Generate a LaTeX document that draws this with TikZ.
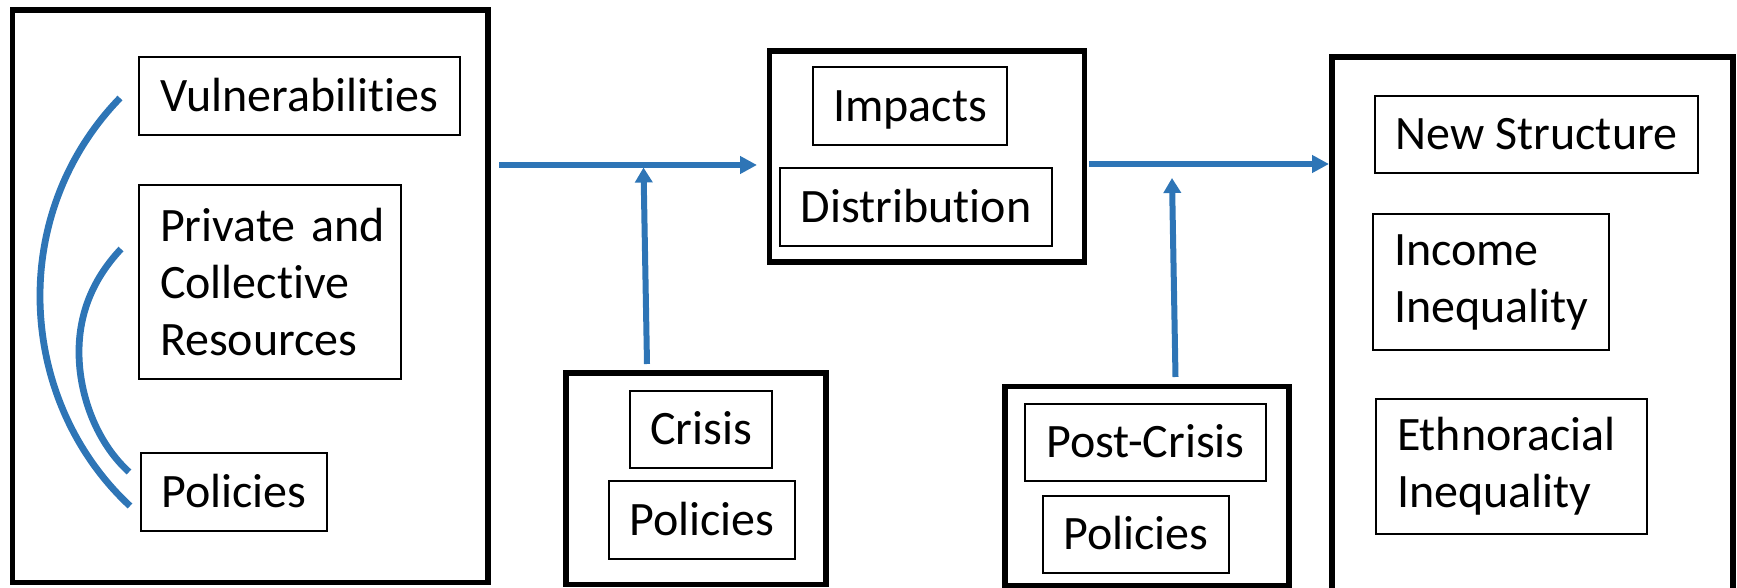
\documentclass[tikz,border=0pt]{standalone}
\usepackage{fontspec}
\setmainfont{Carlito}[Ligatures=NoCommon]
\usetikzlibrary{arrows.meta}
\definecolor{arrblue}{RGB}{46,117,182}
\begin{document}
\begin{tikzpicture}[x=0.5pt,y=-0.5pt,
  outerbox/.style={draw, line width=2.8pt, inner sep=0pt},
  inbox/.style={draw, line width=0.85pt, inner sep=0pt, font=\fontsize{24}{28.5}\selectfont, text height=15.4pt, text depth=0pt},
  multibox/.style={draw, line width=0.85pt, inner xsep=10.5pt, inner ysep=0pt, align=left, font=\fontsize{24}{28.5}\selectfont},
  link/.style={arrblue, line width=3pt},
  arcline/.style={arrblue, line width=3.4pt},
  arrh/.style={link, -{Triangle[length=8.5pt,width=8.5pt]}},
  arrv/.style={link, -{Triangle[length=7.5pt,width=8.5pt]}},
]
\useasboundingbox (0,0) rectangle (1737,588);
\clip (0,0) rectangle (1737,588);

% outer (thick) boxes
\node[outerbox, minimum width=237.75pt, minimum height=286.25pt] (left) at (250.25,296.25) {};
\node[outerbox, minimum width=157.5pt, minimum height=105.5pt] (mid) at (927,156.5) {};
\node[outerbox, minimum width=130pt, minimum height=105.75pt] (crisisbox) at (696,478.75) {};
\node[outerbox, minimum width=142pt, minimum height=99.5pt] (postbox) at (1147,486) {};
\node[outerbox, minimum width=200.5pt, minimum height=281.5pt] (right) at (1532.5,338.5) {};

% left group
\node[inbox, minimum width=160.5pt, minimum height=39pt] (vul) at (299.5,96) {Vulnerabilities};
\node[multibox, text width=110pt, minimum height=97pt] (priv) at (270,282) {\mbox{Private and}\\Collective\\Resources};
\node[inbox, minimum width=93pt, minimum height=39pt] (pol1) at (234,492) {Policies};

% middle top
\node[inbox, minimum width=97pt, minimum height=39pt] (imp) at (910,106) {Impacts};
\node[inbox, minimum width=136pt, minimum height=39pt] (dist) at (916,207) {Distribution};

% crisis
\node[inbox, minimum width=71pt, minimum height=38.5pt] (cri) at (701,429.5) {Crisis};
\node[inbox, minimum width=93pt, minimum height=39pt] (pol2) at (702,520) {Policies};

% post-crisis
\node[inbox, minimum width=120.5pt, minimum height=38.5pt] (post) at (1145.5,442.5) {Post-Crisis};
\node[inbox, minimum width=93pt, minimum height=38.5pt] (pol3) at (1136,534.5) {Policies};

% right group
\node[inbox, minimum width=161.5pt, minimum height=38.5pt] (news) at (1536.5,134.5) {New Structure};
\node[multibox, text width=97pt, minimum height=68pt] (inc) at (1491,282) {Income\\Inequality};
\node[multibox, text width=114.5pt, minimum height=67.5pt] (eth) at (1511.5,466.5) {Ethnoracial\\Inequality};

% connector end points
\coordinate (a1s) at (499,165);
\coordinate (a1e) at (757,165);
\coordinate (v1s) at (647,364);
\coordinate (v1e) at (643.5,167.5);
\coordinate (a2s) at (1089,164);
\coordinate (a2e) at (1329,164);
\coordinate (v2s) at (1175.5,377);
\coordinate (v2e) at (1172,178);
\coordinate (o1) at (120,98);
\coordinate (o2) at (40,296);
\coordinate (o3) at (130,506);
\coordinate (i1) at (121,249);
\coordinate (i2) at (79,352);
\coordinate (i3) at (129,472);

\draw[arrh] (a1s) -- (a1e);
\draw[arrv] (v1s) -- (v1e);
\draw[arrh] (a2s) -- (a2e);
\draw[arrv] (v2s) -- (v2e);

\draw[arcline] (o1) .. controls (68.6,151) and (40,221.4) .. (o2)
                 .. controls (40,375.5) and (72.2,452.3) .. (o3);
\draw[arcline] (i1) .. controls (94.2,277.5) and (79,311.5) .. (i2)
                 .. controls (79,396.3) and (97.3,443.2) .. (i3);
\end{tikzpicture}
\end{document}
